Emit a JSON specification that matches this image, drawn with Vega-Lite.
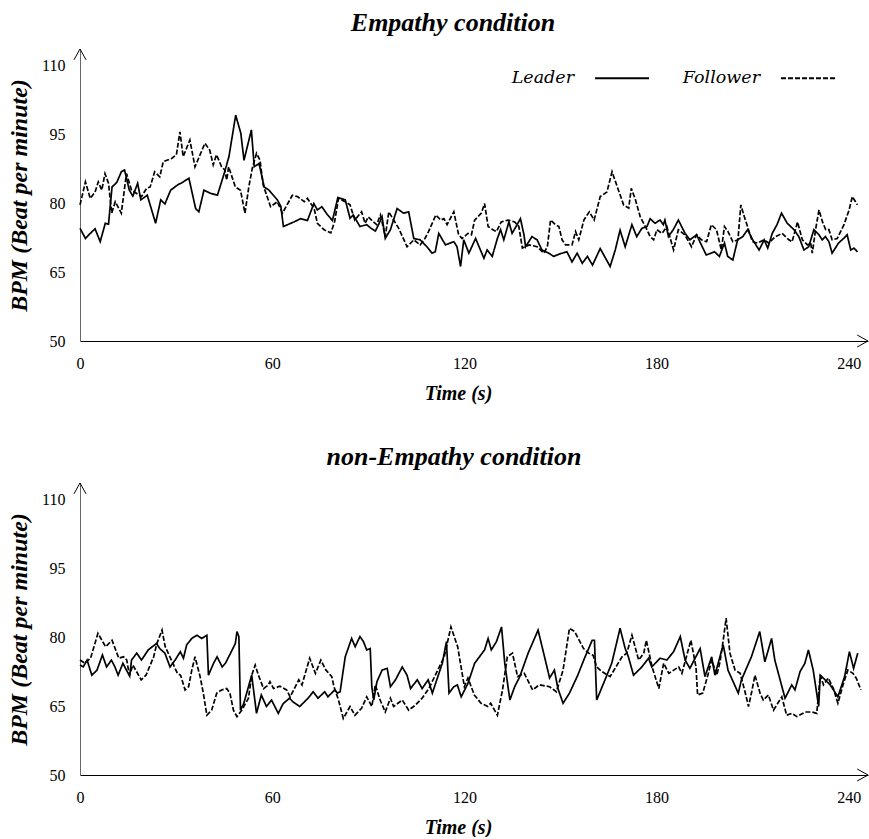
{
"$schema":"https://vega.github.io/schema/vega-lite/v6.json",
"background":"white",
"padding":{"left":7,"top":10,"right":0,"bottom":0},
"spacing":41,
"config":{"view":{"stroke":null},"font":"Liberation Serif"},
"datasets":{
"emp":[
{"s":"L","t":0,"v":74.5},{"s":"L","t":1.7,"v":72.3},{"s":"L","t":3.2,"v":73.4},{"s":"L","t":4.7,"v":74.4},{"s":"L","t":6.3,"v":71.6},{"s":"L","t":7.9,"v":75.6},{"s":"L","t":8.9,"v":75.4},{"s":"L","t":10,"v":83.5},{"s":"L","t":11.5,"v":84.5},{"s":"L","t":12.9,"v":86.8},{"s":"L","t":13.9,"v":87.2},{"s":"L","t":15.4,"v":82.8},{"s":"L","t":16.5,"v":81.5},{"s":"L","t":18,"v":84.3},{"s":"L","t":19,"v":80.7},{"s":"L","t":21,"v":81.7},{"s":"L","t":23.6,"v":75.6},{"s":"L","t":25.2,"v":80.7},{"s":"L","t":26.5,"v":79.8},{"s":"L","t":28.3,"v":82.8},{"s":"L","t":30.4,"v":83.9},{"s":"L","t":32,"v":84.5},{"s":"L","t":34,"v":85.4},{"s":"L","t":36.1,"v":78.8},{"s":"L","t":37.1,"v":78.1},{"s":"L","t":38.7,"v":82.8},{"s":"L","t":40.8,"v":82.1},{"s":"L","t":42.9,"v":81.7},{"s":"L","t":45,"v":86.4},{"s":"L","t":46.5,"v":90.1},{"s":"L","t":48.6,"v":99.1},{"s":"L","t":50.2,"v":95.2},{"s":"L","t":51.2,"v":89.3},{"s":"L","t":53.5,"v":95.9},{"s":"L","t":54.4,"v":87.9},{"s":"L","t":55.9,"v":88.6},{"s":"L","t":57.5,"v":83.5},{"s":"L","t":59,"v":82.8},{"s":"L","t":61.6,"v":80.7},{"s":"L","t":62.7,"v":79.3},{"s":"L","t":63.5,"v":74.9},{"s":"L","t":66.8,"v":75.9},{"s":"L","t":68.9,"v":76.6},{"s":"L","t":71,"v":76.2},{"s":"L","t":73,"v":79.9},{"s":"L","t":74.1,"v":78.5},{"s":"L","t":75.5,"v":79.2},{"s":"L","t":77.2,"v":77.5},{"s":"L","t":78.8,"v":76.2},{"s":"L","t":80.5,"v":81.2},{"s":"L","t":82.8,"v":80.7},{"s":"L","t":84.3,"v":76.7},{"s":"L","t":85.3,"v":77.4},{"s":"L","t":87.4,"v":74.9},{"s":"L","t":89.5,"v":75.3},{"s":"L","t":90.7,"v":74.6},{"s":"L","t":92.2,"v":73.9},{"s":"L","t":93.2,"v":75.3},{"s":"L","t":94.3,"v":77},{"s":"L","t":95.3,"v":72.3},{"s":"L","t":96.9,"v":74.2},{"s":"L","t":99,"v":78.8},{"s":"L","t":101,"v":77.8},{"s":"L","t":102.6,"v":78.1},{"s":"L","t":104.2,"v":72.3},{"s":"L","t":106.2,"v":72},{"s":"L","t":108.3,"v":70.5},{"s":"L","t":109.9,"v":69.1},{"s":"L","t":110.9,"v":69.4},{"s":"L","t":112,"v":73.4},{"s":"L","t":114.1,"v":70.9},{"s":"L","t":116.7,"v":71.6},{"s":"L","t":117.7,"v":70.5},{"s":"L","t":118.8,"v":66.2},{"s":"L","t":119.8,"v":72},{"s":"L","t":121.4,"v":69.1},{"s":"L","t":123.5,"v":72.3},{"s":"L","t":125,"v":69.8},{"s":"L","t":126.1,"v":68},{"s":"L","t":127.1,"v":69.8},{"s":"L","t":128.7,"v":68.4},{"s":"L","t":130.3,"v":72.3},{"s":"L","t":131.3,"v":74.2},{"s":"L","t":132.3,"v":72},{"s":"L","t":133.9,"v":75.9},{"s":"L","t":134.9,"v":73.4},{"s":"L","t":137.5,"v":76.6},{"s":"L","t":138.6,"v":73.1},{"s":"L","t":139.1,"v":70.5},{"s":"L","t":141.1,"v":72.7},{"s":"L","t":142.7,"v":72},{"s":"L","t":144.2,"v":69.8},{"s":"L","t":146.3,"v":69.1},{"s":"L","t":147.9,"v":68.4},{"s":"L","t":150,"v":69},{"s":"L","t":152,"v":69.4},{"s":"L","t":153.6,"v":67.2},{"s":"L","t":155.2,"v":69.1},{"s":"L","t":156.8,"v":66.9},{"s":"L","t":158.4,"v":68.4},{"s":"L","t":160,"v":66.5},{"s":"L","t":162.4,"v":70.1},{"s":"L","t":165.5,"v":66.2},{"s":"L","t":167.1,"v":69.8},{"s":"L","t":168.6,"v":74.1},{"s":"L","t":170.2,"v":70.5},{"s":"L","t":172.3,"v":75.3},{"s":"L","t":173.8,"v":72.7},{"s":"L","t":175.4,"v":74.5},{"s":"L","t":177,"v":74.9},{"s":"L","t":178,"v":76.6},{"s":"L","t":179.5,"v":75.6},{"s":"L","t":181.1,"v":76.3},{"s":"L","t":182.1,"v":75.3},{"s":"L","t":182.6,"v":76.3},{"s":"L","t":183.7,"v":72.7},{"s":"L","t":185.2,"v":74.2},{"s":"L","t":186.8,"v":76.3},{"s":"L","t":188.9,"v":73.4},{"s":"L","t":190.4,"v":72},{"s":"L","t":192.5,"v":73.1},{"s":"L","t":193.5,"v":71.6},{"s":"L","t":195.5,"v":68.7},{"s":"L","t":198.1,"v":69.4},{"s":"L","t":199.6,"v":68.4},{"s":"L","t":201.2,"v":71.3},{"s":"L","t":202.2,"v":68.4},{"s":"L","t":203.8,"v":67.6},{"s":"L","t":205.3,"v":72},{"s":"L","t":206.9,"v":72.7},{"s":"L","t":208.4,"v":74.2},{"s":"L","t":210,"v":72},{"s":"L","t":212,"v":69.8},{"s":"L","t":213.6,"v":72},{"s":"L","t":214.7,"v":70.2},{"s":"L","t":216.1,"v":73.4},{"s":"L","t":217.6,"v":75.3},{"s":"L","t":219,"v":77.8},{"s":"L","t":220.8,"v":75.6},{"s":"L","t":222.9,"v":74.2},{"s":"L","t":224.4,"v":72.7},{"s":"L","t":226,"v":69.8},{"s":"L","t":227.5,"v":70.5},{"s":"L","t":229.1,"v":74.2},{"s":"L","t":230.7,"v":73.1},{"s":"L","t":231.7,"v":72},{"s":"L","t":232.7,"v":72.7},{"s":"L","t":233.8,"v":71.6},{"s":"L","t":234.8,"v":69.1},{"s":"L","t":236.8,"v":71.3},{"s":"L","t":238.4,"v":72.3},{"s":"L","t":239.5,"v":73.1},{"s":"L","t":240.6,"v":69.8},{"s":"L","t":241.6,"v":70.2},{"s":"L","t":242.7,"v":69.4},
{"s":"F","t":0,"v":79.6},{"s":"F","t":1.7,"v":84.6},{"s":"F","t":3.2,"v":81},{"s":"F","t":4.7,"v":82.4},{"s":"F","t":5.7,"v":84.6},{"s":"F","t":6.8,"v":82.8},{"s":"F","t":7.8,"v":86.4},{"s":"F","t":8.9,"v":84.3},{"s":"F","t":9.9,"v":77.8},{"s":"F","t":11,"v":80.3},{"s":"F","t":12.9,"v":77.8},{"s":"F","t":14.5,"v":86.4},{"s":"F","t":16.1,"v":82.8},{"s":"F","t":19.2,"v":81.4},{"s":"F","t":20.8,"v":83.2},{"s":"F","t":21.9,"v":83.5},{"s":"F","t":23.3,"v":86.8},{"s":"F","t":24.9,"v":85.7},{"s":"F","t":26,"v":89},{"s":"F","t":28.6,"v":89.7},{"s":"F","t":30.1,"v":90.5},{"s":"F","t":31.2,"v":95.5},{"s":"F","t":32.2,"v":90.1},{"s":"F","t":34.3,"v":93.7},{"s":"F","t":35.9,"v":87.9},{"s":"F","t":39,"v":93},{"s":"F","t":40.5,"v":91.5},{"s":"F","t":41.6,"v":88.3},{"s":"F","t":42.6,"v":90.5},{"s":"F","t":44.2,"v":87.9},{"s":"F","t":45.2,"v":87.2},{"s":"F","t":45.8,"v":85},{"s":"F","t":46.4,"v":87.9},{"s":"F","t":48.5,"v":83.5},{"s":"F","t":50.1,"v":82.8},{"s":"F","t":51.5,"v":77.8},{"s":"F","t":52.7,"v":83.5},{"s":"F","t":53.8,"v":87.6},{"s":"F","t":55.1,"v":90.8},{"s":"F","t":56.2,"v":89.3},{"s":"F","t":57.2,"v":83.9},{"s":"F","t":59.5,"v":79.2},{"s":"F","t":61.6,"v":80.3},{"s":"F","t":63.2,"v":77.8},{"s":"F","t":66.3,"v":81.7},{"s":"F","t":67.9,"v":81.4},{"s":"F","t":70,"v":80.3},{"s":"F","t":71,"v":81},{"s":"F","t":73.1,"v":78.8},{"s":"F","t":74.1,"v":75.6},{"s":"F","t":76.2,"v":74.2},{"s":"F","t":78.3,"v":73.5},{"s":"F","t":79.5,"v":76},{"s":"F","t":80.7,"v":81},{"s":"F","t":82.8,"v":80.3},{"s":"F","t":84.3,"v":79.6},{"s":"F","t":85.8,"v":76.3},{"s":"F","t":87.9,"v":78.1},{"s":"F","t":89,"v":75.6},{"s":"F","t":90,"v":77},{"s":"F","t":91.6,"v":75.9},{"s":"F","t":92.6,"v":75.3},{"s":"F","t":93.8,"v":77.4},{"s":"F","t":95.3,"v":72.7},{"s":"F","t":96.4,"v":78.1},{"s":"F","t":97.9,"v":76.3},{"s":"F","t":99.5,"v":74.5},{"s":"F","t":102.1,"v":70.5},{"s":"F","t":104.2,"v":72},{"s":"F","t":106.2,"v":70.9},{"s":"F","t":107.7,"v":72.3},{"s":"F","t":108.8,"v":73.8},{"s":"F","t":111.1,"v":77.4},{"s":"F","t":112.6,"v":76.3},{"s":"F","t":113.6,"v":76.6},{"s":"F","t":114.6,"v":75.3},{"s":"F","t":116.7,"v":78.1},{"s":"F","t":118.2,"v":73.1},{"s":"F","t":119.3,"v":72.3},{"s":"F","t":121.1,"v":73.4},{"s":"F","t":122.2,"v":73.1},{"s":"F","t":123.2,"v":76.3},{"s":"F","t":125.3,"v":77.8},{"s":"F","t":126.3,"v":79.9},{"s":"F","t":127.4,"v":74.9},{"s":"F","t":128.9,"v":74.2},{"s":"F","t":130,"v":73.8},{"s":"F","t":131.5,"v":75.9},{"s":"F","t":133.6,"v":76.3},{"s":"F","t":135.7,"v":75.9},{"s":"F","t":137,"v":74.9},{"s":"F","t":138.1,"v":70.2},{"s":"F","t":140.2,"v":70.9},{"s":"F","t":142.7,"v":70.5},{"s":"F","t":144.8,"v":69.1},{"s":"F","t":145.9,"v":70.5},{"s":"F","t":146.9,"v":76.3},{"s":"F","t":148.4,"v":75.3},{"s":"F","t":149.5,"v":74.9},{"s":"F","t":150.5,"v":72},{"s":"F","t":151.6,"v":70.9},{"s":"F","t":153.6,"v":70.9},{"s":"F","t":154.7,"v":73.8},{"s":"F","t":155.7,"v":72},{"s":"F","t":157.3,"v":76.3},{"s":"F","t":159,"v":78.1},{"s":"F","t":160.5,"v":76.3},{"s":"F","t":162.4,"v":81.4},{"s":"F","t":164.5,"v":82.4},{"s":"F","t":166.1,"v":86.8},{"s":"F","t":168.1,"v":82.8},{"s":"F","t":169.7,"v":79.6},{"s":"F","t":171.3,"v":78.9},{"s":"F","t":172.1,"v":83.2},{"s":"F","t":173.4,"v":80.7},{"s":"F","t":174.9,"v":77},{"s":"F","t":176.5,"v":74.9},{"s":"F","t":178,"v":72.7},{"s":"F","t":179.1,"v":72},{"s":"F","t":180.1,"v":74.2},{"s":"F","t":181.7,"v":73.4},{"s":"F","t":183.2,"v":74.9},{"s":"F","t":185.3,"v":69.8},{"s":"F","t":186.8,"v":74.2},{"s":"F","t":188.8,"v":73.1},{"s":"F","t":190.9,"v":70.5},{"s":"F","t":192.5,"v":73.1},{"s":"F","t":194,"v":72},{"s":"F","t":195.6,"v":71.6},{"s":"F","t":197.1,"v":75.3},{"s":"F","t":198.7,"v":74.2},{"s":"F","t":200.2,"v":69.8},{"s":"F","t":201.2,"v":74.9},{"s":"F","t":202.3,"v":73.8},{"s":"F","t":203.8,"v":71.6},{"s":"F","t":205.4,"v":72},{"s":"F","t":206.3,"v":79.6},{"s":"F","t":207.4,"v":77},{"s":"F","t":208.4,"v":74.9},{"s":"F","t":209.9,"v":71.6},{"s":"F","t":211.5,"v":71.3},{"s":"F","t":213.6,"v":72},{"s":"F","t":215,"v":71.3},{"s":"F","t":217.1,"v":72.7},{"s":"F","t":219.2,"v":73.4},{"s":"F","t":221.3,"v":72},{"s":"F","t":222.3,"v":71.6},{"s":"F","t":224,"v":75.9},{"s":"F","t":225.5,"v":72},{"s":"F","t":227.1,"v":70.9},{"s":"F","t":228.1,"v":71.3},{"s":"F","t":228.6,"v":69.1},{"s":"F","t":229.7,"v":74.5},{"s":"F","t":230.7,"v":78.5},{"s":"F","t":231.8,"v":75.9},{"s":"F","t":232.8,"v":74.2},{"s":"F","t":233.8,"v":74.2},{"s":"F","t":234.8,"v":72},{"s":"F","t":236.4,"v":72.3},{"s":"F","t":238.5,"v":75.3},{"s":"F","t":240.1,"v":78.5},{"s":"F","t":241.1,"v":81.4},{"s":"F","t":242.7,"v":79.6}
],
"non":[
{"s":"L","t":0,"v":73.9},{"s":"L","t":1,"v":73.5},{"s":"L","t":2.2,"v":75},{"s":"L","t":3.7,"v":71.7},{"s":"L","t":5.3,"v":72.8},{"s":"L","t":7,"v":76.1},{"s":"L","t":8.3,"v":73.5},{"s":"L","t":9.8,"v":75},{"s":"L","t":10.9,"v":73.5},{"s":"L","t":11.9,"v":71.7},{"s":"L","t":13.4,"v":74.3},{"s":"L","t":14.5,"v":72.8},{"s":"L","t":15.5,"v":71.5},{"s":"L","t":16.1,"v":75},{"s":"L","t":17.7,"v":76.5},{"s":"L","t":19.2,"v":75},{"s":"L","t":21.3,"v":77.2},{"s":"L","t":23.9,"v":78.6},{"s":"L","t":24.9,"v":77.5},{"s":"L","t":26.5,"v":76.5},{"s":"L","t":28.1,"v":73.5},{"s":"L","t":29.7,"v":75},{"s":"L","t":31.3,"v":76.8},{"s":"L","t":32.3,"v":75.4},{"s":"L","t":33.3,"v":78.3},{"s":"L","t":34.9,"v":79.7},{"s":"L","t":36.5,"v":80.4},{"s":"L","t":38,"v":79.7},{"s":"L","t":39.6,"v":80.4},{"s":"L","t":40.1,"v":71.7},{"s":"L","t":41.7,"v":74.3},{"s":"L","t":42.8,"v":75.7},{"s":"L","t":44.4,"v":73.5},{"s":"L","t":45.4,"v":74.3},{"s":"L","t":47,"v":76.5},{"s":"L","t":48.5,"v":78.6},{"s":"L","t":49,"v":81.2},{"s":"L","t":49.6,"v":80.1},{"s":"L","t":50.1,"v":64.1},{"s":"L","t":51.1,"v":65.5},{"s":"L","t":53.6,"v":71.7},{"s":"L","t":55.1,"v":63.4},{"s":"L","t":56.6,"v":67.4},{"s":"L","t":58.2,"v":64.9},{"s":"L","t":59.8,"v":66.3},{"s":"L","t":61.9,"v":63.4},{"s":"L","t":63.4,"v":65.5},{"s":"L","t":65.4,"v":66.7},{"s":"L","t":66.5,"v":65.9},{"s":"L","t":68.6,"v":64.9},{"s":"L","t":71.2,"v":66.7},{"s":"L","t":72.8,"v":68.1},{"s":"L","t":74.3,"v":66.7},{"s":"L","t":76.4,"v":68.1},{"s":"L","t":77.4,"v":67},{"s":"L","t":79.5,"v":68.5},{"s":"L","t":80.4,"v":67.8},{"s":"L","t":81.2,"v":68.1},{"s":"L","t":82.8,"v":75.7},{"s":"L","t":84.8,"v":79.7},{"s":"L","t":85.9,"v":77.9},{"s":"L","t":87.4,"v":80.1},{"s":"L","t":88.5,"v":79},{"s":"L","t":89.5,"v":77.2},{"s":"L","t":90.6,"v":77.5},{"s":"L","t":91.1,"v":69.2},{"s":"L","t":91.7,"v":66.3},{"s":"L","t":92.7,"v":70.3},{"s":"L","t":94.3,"v":72.8},{"s":"L","t":95.9,"v":73.2},{"s":"L","t":96.9,"v":69.2},{"s":"L","t":98.5,"v":70.7},{"s":"L","t":100.6,"v":73.5},{"s":"L","t":102.1,"v":71.7},{"s":"L","t":103.2,"v":68.8},{"s":"L","t":105.3,"v":70.7},{"s":"L","t":106.8,"v":68.8},{"s":"L","t":108.7,"v":70.7},{"s":"L","t":110,"v":67.8},{"s":"L","t":113.1,"v":74.3},{"s":"L","t":114.4,"v":79},{"s":"L","t":115.2,"v":67.8},{"s":"L","t":116.7,"v":69.2},{"s":"L","t":117.8,"v":69.6},{"s":"L","t":119,"v":67},{"s":"L","t":121.1,"v":69.9},{"s":"L","t":123.2,"v":74.3},{"s":"L","t":126.3,"v":77.2},{"s":"L","t":127.4,"v":79.7},{"s":"L","t":128.4,"v":77.2},{"s":"L","t":130,"v":79},{"s":"L","t":131.6,"v":82.2},{"s":"L","t":132.6,"v":74.3},{"s":"L","t":134.2,"v":66.3},{"s":"L","t":135.7,"v":69.2},{"s":"L","t":137.3,"v":71.4},{"s":"L","t":139.9,"v":76.5},{"s":"L","t":143,"v":81.5},{"s":"L","t":144.5,"v":77.2},{"s":"L","t":146.6,"v":71.1},{"s":"L","t":148.1,"v":72.8},{"s":"L","t":149.2,"v":68.8},{"s":"L","t":150.8,"v":65.6},{"s":"L","t":152.8,"v":67.8},{"s":"L","t":155.4,"v":71.7},{"s":"L","t":157.5,"v":75.4},{"s":"L","t":159.9,"v":79.3},{"s":"L","t":160.6,"v":79.3},{"s":"L","t":161.3,"v":66.3},{"s":"L","t":163.9,"v":70.7},{"s":"L","t":166,"v":74.3},{"s":"L","t":168.6,"v":81.9},{"s":"L","t":170.2,"v":77.5},{"s":"L","t":171.2,"v":75.7},{"s":"L","t":172.8,"v":71.7},{"s":"L","t":175.4,"v":73.5},{"s":"L","t":177.5,"v":75.4},{"s":"L","t":178.5,"v":73.5},{"s":"L","t":181.1,"v":75.4},{"s":"L","t":183.2,"v":75},{"s":"L","t":185.3,"v":76.8},{"s":"L","t":187.4,"v":80.1},{"s":"L","t":188.9,"v":75},{"s":"L","t":190.4,"v":73.2},{"s":"L","t":193.6,"v":77.5},{"s":"L","t":195.1,"v":71.4},{"s":"L","t":197.2,"v":75.7},{"s":"L","t":198.2,"v":71.7},{"s":"L","t":200.8,"v":78.3},{"s":"L","t":202.3,"v":72.8},{"s":"L","t":205.5,"v":67.8},{"s":"L","t":206.5,"v":70.7},{"s":"L","t":209.6,"v":75.7},{"s":"L","t":212.2,"v":81.2},{"s":"L","t":213.8,"v":74.6},{"s":"L","t":215.9,"v":79.7},{"s":"L","t":216.9,"v":75},{"s":"L","t":220.1,"v":66.7},{"s":"L","t":222.2,"v":69.6},{"s":"L","t":223.2,"v":68.5},{"s":"L","t":224.8,"v":72.5},{"s":"L","t":226.3,"v":74.3},{"s":"L","t":227.4,"v":77.2},{"s":"L","t":228.9,"v":72.8},{"s":"L","t":230.6,"v":64.9},{"s":"L","t":231.1,"v":71.7},{"s":"L","t":232.6,"v":70.7},{"s":"L","t":234.2,"v":69.6},{"s":"L","t":236.6,"v":67},{"s":"L","t":238.7,"v":71.4},{"s":"L","t":240.2,"v":76.8},{"s":"L","t":241.5,"v":73.2},{"s":"L","t":242.8,"v":76.5},
{"s":"F","t":0,"v":75},{"s":"F","t":1.5,"v":74.3},{"s":"F","t":3.3,"v":75.4},{"s":"F","t":5.6,"v":80.8},{"s":"F","t":8,"v":77.9},{"s":"F","t":10,"v":79.3},{"s":"F","t":12.1,"v":75.4},{"s":"F","t":13.6,"v":75.7},{"s":"F","t":14.6,"v":75},{"s":"F","t":15.4,"v":71.7},{"s":"F","t":16.5,"v":73.9},{"s":"F","t":19.1,"v":70.7},{"s":"F","t":20.6,"v":71.7},{"s":"F","t":23,"v":75.7},{"s":"F","t":24,"v":78.6},{"s":"F","t":25.6,"v":81.5},{"s":"F","t":26.6,"v":77.9},{"s":"F","t":28.8,"v":74.6},{"s":"F","t":30.4,"v":72.1},{"s":"F","t":31.4,"v":71.7},{"s":"F","t":32.8,"v":68.5},{"s":"F","t":33.9,"v":69.2},{"s":"F","t":34.9,"v":72.8},{"s":"F","t":35.9,"v":75.7},{"s":"F","t":37.5,"v":71.4},{"s":"F","t":38.5,"v":67.8},{"s":"F","t":39.6,"v":63},{"s":"F","t":41.1,"v":64.1},{"s":"F","t":42.7,"v":67.8},{"s":"F","t":44.2,"v":68.5},{"s":"F","t":45.8,"v":68.8},{"s":"F","t":46.8,"v":67.8},{"s":"F","t":47.9,"v":64.1},{"s":"F","t":49,"v":62.7},{"s":"F","t":50.5,"v":64.1},{"s":"F","t":52.6,"v":66.7},{"s":"F","t":53.6,"v":71.7},{"s":"F","t":54.7,"v":73.9},{"s":"F","t":55.7,"v":71.7},{"s":"F","t":57.3,"v":68.8},{"s":"F","t":58.8,"v":69.6},{"s":"F","t":59.3,"v":70.3},{"s":"F","t":60.4,"v":68.8},{"s":"F","t":62.4,"v":69.3},{"s":"F","t":64.5,"v":68.5},{"s":"F","t":65.6,"v":67},{"s":"F","t":68.3,"v":70.7},{"s":"F","t":69.3,"v":69.6},{"s":"F","t":71.7,"v":75.4},{"s":"F","t":73.5,"v":72.1},{"s":"F","t":75.2,"v":75},{"s":"F","t":76.8,"v":72.8},{"s":"F","t":78.6,"v":71.4},{"s":"F","t":79.3,"v":69.2},{"s":"F","t":80.7,"v":66.3},{"s":"F","t":82.2,"v":62.3},{"s":"F","t":84.3,"v":64.9},{"s":"F","t":85.8,"v":63},{"s":"F","t":87.9,"v":64.5},{"s":"F","t":89.5,"v":67},{"s":"F","t":91.1,"v":64.9},{"s":"F","t":92.2,"v":69.6},{"s":"F","t":93.7,"v":66.3},{"s":"F","t":95.3,"v":63.7},{"s":"F","t":96.9,"v":66.7},{"s":"F","t":97.9,"v":64.9},{"s":"F","t":100.6,"v":66.3},{"s":"F","t":102.6,"v":64.1},{"s":"F","t":104.7,"v":65.2},{"s":"F","t":106.8,"v":66.7},{"s":"F","t":108.9,"v":68.8},{"s":"F","t":111.2,"v":72.1},{"s":"F","t":113.7,"v":75.7},{"s":"F","t":115.8,"v":82.2},{"s":"F","t":117.9,"v":77.9},{"s":"F","t":120,"v":69.2},{"s":"F","t":121.1,"v":71.1},{"s":"F","t":123.1,"v":67.4},{"s":"F","t":125.2,"v":65.6},{"s":"F","t":127.3,"v":64.9},{"s":"F","t":128.2,"v":65.6},{"s":"F","t":130.3,"v":63},{"s":"F","t":131.9,"v":68.5},{"s":"F","t":133.4,"v":75.7},{"s":"F","t":135,"v":76.5},{"s":"F","t":136.6,"v":71.4},{"s":"F","t":138.7,"v":72.1},{"s":"F","t":141.3,"v":68.5},{"s":"F","t":143.4,"v":69.6},{"s":"F","t":146.6,"v":69.2},{"s":"F","t":148.7,"v":68.1},{"s":"F","t":150.8,"v":72.8},{"s":"F","t":152.8,"v":81.9},{"s":"F","t":154.4,"v":81.2},{"s":"F","t":157.2,"v":77.5},{"s":"F","t":158.8,"v":76.5},{"s":"F","t":160.2,"v":76},{"s":"F","t":161.3,"v":73.5},{"s":"F","t":162.9,"v":72.5},{"s":"F","t":165.5,"v":71.4},{"s":"F","t":169.2,"v":75.7},{"s":"F","t":170.7,"v":76.5},{"s":"F","t":172.3,"v":80.4},{"s":"F","t":174.4,"v":75},{"s":"F","t":176,"v":76.5},{"s":"F","t":176.8,"v":79.3},{"s":"F","t":178.6,"v":73.5},{"s":"F","t":180.7,"v":68.8},{"s":"F","t":182.2,"v":74.3},{"s":"F","t":183.8,"v":72.1},{"s":"F","t":186.9,"v":73.5},{"s":"F","t":187.9,"v":72.1},{"s":"F","t":190.7,"v":79.3},{"s":"F","t":192.3,"v":73.5},{"s":"F","t":192.8,"v":67.4},{"s":"F","t":194.4,"v":67.8},{"s":"F","t":196,"v":71.7},{"s":"F","t":197.2,"v":75},{"s":"F","t":198.8,"v":71.7},{"s":"F","t":199.8,"v":74.6},{"s":"F","t":200.8,"v":79.3},{"s":"F","t":201.7,"v":84.1},{"s":"F","t":202.9,"v":76.5},{"s":"F","t":204.5,"v":72.8},{"s":"F","t":206.1,"v":72.1},{"s":"F","t":207.6,"v":68.1},{"s":"F","t":208.7,"v":64.9},{"s":"F","t":209.7,"v":68.1},{"s":"F","t":210.7,"v":71.7},{"s":"F","t":212.3,"v":67.8},{"s":"F","t":213.3,"v":66.3},{"s":"F","t":214.9,"v":67.4},{"s":"F","t":216.5,"v":64.1},{"s":"F","t":219.1,"v":67},{"s":"F","t":220.6,"v":63},{"s":"F","t":222.2,"v":63.4},{"s":"F","t":223.8,"v":62.7},{"s":"F","t":226.4,"v":63.7},{"s":"F","t":228.5,"v":63.7},{"s":"F","t":230,"v":63.4},{"s":"F","t":231.1,"v":71.7},{"s":"F","t":232.1,"v":69.6},{"s":"F","t":233.6,"v":71.1},{"s":"F","t":235.2,"v":68.8},{"s":"F","t":236.6,"v":65.6},{"s":"F","t":238.2,"v":69.6},{"s":"F","t":239.7,"v":72.8},{"s":"F","t":241.3,"v":72.1},{"s":"F","t":242.3,"v":71.1},{"s":"F","t":243.8,"v":68.5}
]
},
"vconcat":[
{
"title":{"text":"Empathy condition","font":"Liberation Serif","fontSize":26,"fontWeight":"bold","fontStyle":"italic","color":"black","frame":"group","anchor":"middle","dx":-21,"baseline":"alphabetic","offset":-10},
"width":788,"height":292,
"layer":[
{"data":{"name":"emp"},"mark":{"type":"line","color":"black","strokeWidth":1.7},
"encoding":{
"x":{"field":"t","type":"quantitative","scale":{"domain":[0,246],"nice":false,"zero":false},"axis":{"values":[0,60,120,180,240],"title":"Time (s)","grid":false,"ticks":false,"tickSize":0,"labelPadding":14,"labelFont":"Liberation Serif","labelFontSize":16,"labelColor":"black","domainColor":"black","domainWidth":1.2,"titleFont":"Liberation Serif","titleFontSize":20,"titleFontWeight":"bold","titleFontStyle":"italic","titleColor":"black","titlePadding":12,"titleX":378,"labelFlush":false}},
"y":{"field":"v","type":"quantitative","scale":{"domain":[50,113.5],"nice":false,"zero":false},"axis":{"values":[50,65,80,95,110],"title":"BPM (Beat per minute)","grid":false,"ticks":false,"tickSize":0,"labelPadding":15,"labelFont":"Liberation Serif","labelFontSize":16,"labelColor":"black","domainColor":"#666666","domainWidth":1,"titleFont":"Liberation Serif","titleFontSize":24,"titleFontWeight":"bold","titleFontStyle":"italic","titleColor":"black","titlePadding":10}},
"strokeDash":{"field":"s","type":"nominal","scale":{"domain":["L","F"],"range":[[1,0],[5,2]]},"legend":{"orient":"none","legendX":514,"legendY":1,"direction":"horizontal","title":null,"symbolType":"stroke","symbolSize":2916,"symbolStrokeWidth":1.8,"symbolStrokeColor":"black","labelFont":"DejaVu Serif","labelFontStyle":"italic","labelFontSize":17.5,"labelColor":"black","labelAlign":"right","labelOffset":-76,"columnPadding":29,"padding":0,"labelExpr":"datum.label == 'L' ? 'Leader' : 'Follower'"}}
}},
{"data":{"values":[{}]},"mark":{"type":"point","shape":"M-1.8,-1L0,0L-1.8,1","filled":false,"stroke":"black","strokeWidth":1,"size":144,"opacity":1},"encoding":{"x":{"datum":246,"type":"quantitative"},"y":{"datum":50,"type":"quantitative"}}},
{"data":{"values":[{}]},"mark":{"type":"point","shape":"M-1,1.8L0,0L1,1.8","filled":false,"stroke":"black","strokeWidth":1,"size":144,"opacity":1},"encoding":{"x":{"datum":0,"type":"quantitative"},"y":{"datum":113.5,"type":"quantitative"}}}
]
},
{
"title":{"text":"non-Empathy condition","font":"Liberation Serif","fontSize":26,"fontWeight":"bold","fontStyle":"italic","color":"black","frame":"group","anchor":"middle","dx":-20,"baseline":"alphabetic","offset":-10},
"width":788,"height":292,
"layer":[
{"data":{"name":"non"},"mark":{"type":"line","color":"black","strokeWidth":1.7},
"encoding":{
"x":{"field":"t","type":"quantitative","scale":{"domain":[0,246],"nice":false,"zero":false},"axis":{"values":[0,60,120,180,240],"title":"Time (s)","grid":false,"ticks":false,"tickSize":0,"labelPadding":14,"labelFont":"Liberation Serif","labelFontSize":16,"labelColor":"black","domainColor":"black","domainWidth":1.2,"titleFont":"Liberation Serif","titleFontSize":20,"titleFontWeight":"bold","titleFontStyle":"italic","titleColor":"black","titlePadding":12,"titleX":378,"labelFlush":false}},
"y":{"field":"v","type":"quantitative","scale":{"domain":[50,113.5],"nice":false,"zero":false},"axis":{"values":[50,65,80,95,110],"title":"BPM (Beat per minute)","grid":false,"ticks":false,"tickSize":0,"labelPadding":15,"labelFont":"Liberation Serif","labelFontSize":16,"labelColor":"black","domainColor":"#666666","domainWidth":1,"titleFont":"Liberation Serif","titleFontSize":24,"titleFontWeight":"bold","titleFontStyle":"italic","titleColor":"black","titlePadding":10}},
"strokeDash":{"field":"s","type":"nominal","scale":{"domain":["L","F"],"range":[[1,0],[5,2]]},"legend":{"orient":"none","legendX":514,"legendY":1,"direction":"horizontal","title":null,"symbolType":"stroke","symbolSize":2916,"symbolStrokeWidth":1.8,"symbolStrokeColor":"black","labelFont":"DejaVu Serif","labelFontStyle":"italic","labelFontSize":17.5,"labelColor":"black","labelAlign":"right","labelOffset":-76,"columnPadding":29,"padding":0,"labelExpr":"datum.label == 'L' ? 'Leader' : 'Follower'"}}
}},
{"data":{"values":[{}]},"mark":{"type":"point","shape":"M-1.8,-1L0,0L-1.8,1","filled":false,"stroke":"black","strokeWidth":1,"size":144,"opacity":1},"encoding":{"x":{"datum":246,"type":"quantitative"},"y":{"datum":50,"type":"quantitative"}}},
{"data":{"values":[{}]},"mark":{"type":"point","shape":"M-1,1.8L0,0L1,1.8","filled":false,"stroke":"black","strokeWidth":1,"size":144,"opacity":1},"encoding":{"x":{"datum":0,"type":"quantitative"},"y":{"datum":113.5,"type":"quantitative"}}}
]
}
]
}
